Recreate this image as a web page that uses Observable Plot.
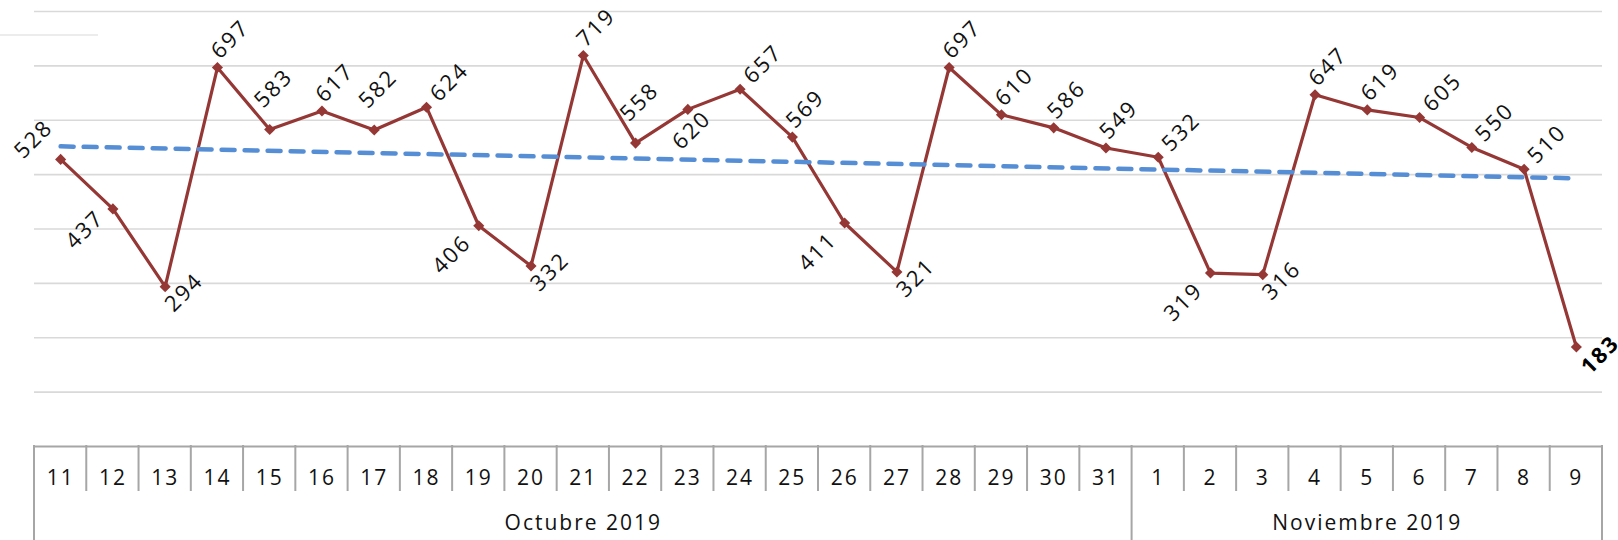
<!DOCTYPE html>
<html>
<head>
<meta charset="utf-8">
<script src="https://cdn.jsdelivr.net/npm/d3@7"></script>
<script src="https://cdn.jsdelivr.net/npm/@observablehq/plot@0.6"></script>
<style>
  html, body { margin: 0; padding: 0; background: #fff; }
  #chart { width: 1618px; height: 540px; overflow: hidden; }
</style>
</head>
<body>
<div id="chart"></div>
<script>
// ---- data ----
const days = ["11","12","13","14","15","16","17","18","19","20","21","22","23","24","25","26","27","28","29","30","31",
              "1","2","3","4","5","6","7","8","9"];
const values = [528,437,294,697,583,617,582,624,406,332,719,558,620,657,569,411,321,697,610,586,549,
                532,319,316,647,619,605,550,510,183];
const months = ["Octubre 2019", "Noviembre 2019"];
const monthLengths = [21, 9];
const gridValues = [100,200,300,400,500,600,700,800];
// label placement keywords (where each value label sits relative to its point)
const labelPlacement = ["lt","lb","r","a","aa","a","aa","ar","bl","r","a","aa","b","ar","a","bl","r","a","a","a","a",
                        "ar","bl","r","a","a","ar","ar","ar","r"];

// ---- styling ----
const FONT = "'Open Sans', 'Noto Sans', sans-serif";
const RED = "#953735";
const BLUE = "#558ed5";
const AXIS = "#a6a6a6";
const offsets = {
  a:  [13, -28],
  aa: [4, -41],
  ar: [23, -25],
  r:  [19, 6],
  bl: [-27, 29],
  lb: [-28, 21],
  lt: [-27, -20],
  b:  [4, 21]
};

const W = 1618, H = 540;
const data = values.map((v, i) => ({i, day: days[i], v, pos: labelPlacement[i]}));
const last = data.length - 1;

const labelMarks = Object.entries(offsets).map(([key, [dx, dy]]) =>
  Plot.text(data, {
    filter: d => d.pos === key && d.i !== last,
    x: "i", y: "v", text: d => String(d.v),
    rotate: -45, dx, dy, textAnchor: "middle", lineAnchor: "middle",
    fill: "#111", fontSize: 22
  })
);
const lp = offsets[labelPlacement[last]];
labelMarks.push(Plot.text(data, {
  filter: d => d.i === last,
  x: "i", y: "v", text: d => String(d.v),
  rotate: -45, dx: lp[0] + 5, dy: lp[1] + 2, textAnchor: "middle", lineAnchor: "middle",
  fill: "#000", fontSize: 22, fontWeight: "bold"
}));

// month label centres from cumulative lengths
const monthStarts = monthLengths.map((_, k) => d3.sum(monthLengths.slice(0, k)));
const monthCenters = monthLengths.map((n, k) => monthStarts[k] - 0.5 + n / 2);

const plot = Plot.plot({
  width: W, height: H,
  marginLeft: 34, marginRight: 16, marginTop: 11, marginBottom: 94,
  x: {type: "linear", domain: [-0.5, days.length - 0.5], axis: null},
  y: {domain: [0, 800], axis: null},
  style: {fontFamily: FONT, fontSize: "21px", color: "#111", background: "#fff", overflow: "visible", letterSpacing: "2px"},
  marks: [
    Plot.ruleY(gridValues, {stroke: "#d9d9d9", strokeWidth: 1.6}),
    Plot.ruleY([0], {stroke: AXIS, strokeWidth: 2}),
    Plot.line(data, {x: "i", y: "v", stroke: RED, strokeWidth: 3.2}),
    Plot.dot(data, {x: "i", y: "v", symbol: "diamond2", r: 5, fill: RED, stroke: "none"}),
    ...labelMarks,
    Plot.linearRegressionY(data, {x: "i", y: "v", stroke: BLUE, strokeWidth: 4.5,
      strokeDasharray: "13,10", strokeLinecap: "round", ci: 0}),
    Plot.text(days, {x: (d, i) => i, y: () => 0, dy: 32, text: d => d, fill: "#111", fontSize: 21, lineAnchor: "middle"}),
    Plot.text(months, {x: (d, k) => monthCenters[k], y: () => 0, dy: 77, text: d => d, fill: "#111", fontSize: 21, lineAnchor: "middle"})
  ]
});

document.getElementById("chart").appendChild(plot);

// category-table lines under the axis, positioned with the plot's own scales
const sx = plot.scale("x"), sy = plot.scale("y");
const svg = d3.select(plot);
const y0 = sy.apply(0);
const monthBounds = new Set([...monthStarts, days.length]);
const g = svg.append("g").attr("stroke", AXIS).attr("stroke-width", 2);
for (let k = 0; k <= days.length; k++) {
  const x = sx.apply(k - 0.5);
  g.append("line")
    .attr("x1", x).attr("x2", x)
    .attr("y1", y0 - 1).attr("y2", monthBounds.has(k) ? H : y0 + 45);
}
// faint legend remnant at top-left
svg.append("line").attr("x1", 0).attr("x2", 98).attr("y1", 35).attr("y2", 35)
  .attr("stroke", "#e6e6e6").attr("stroke-width", 1.5);
</script>
</body>
</html>
